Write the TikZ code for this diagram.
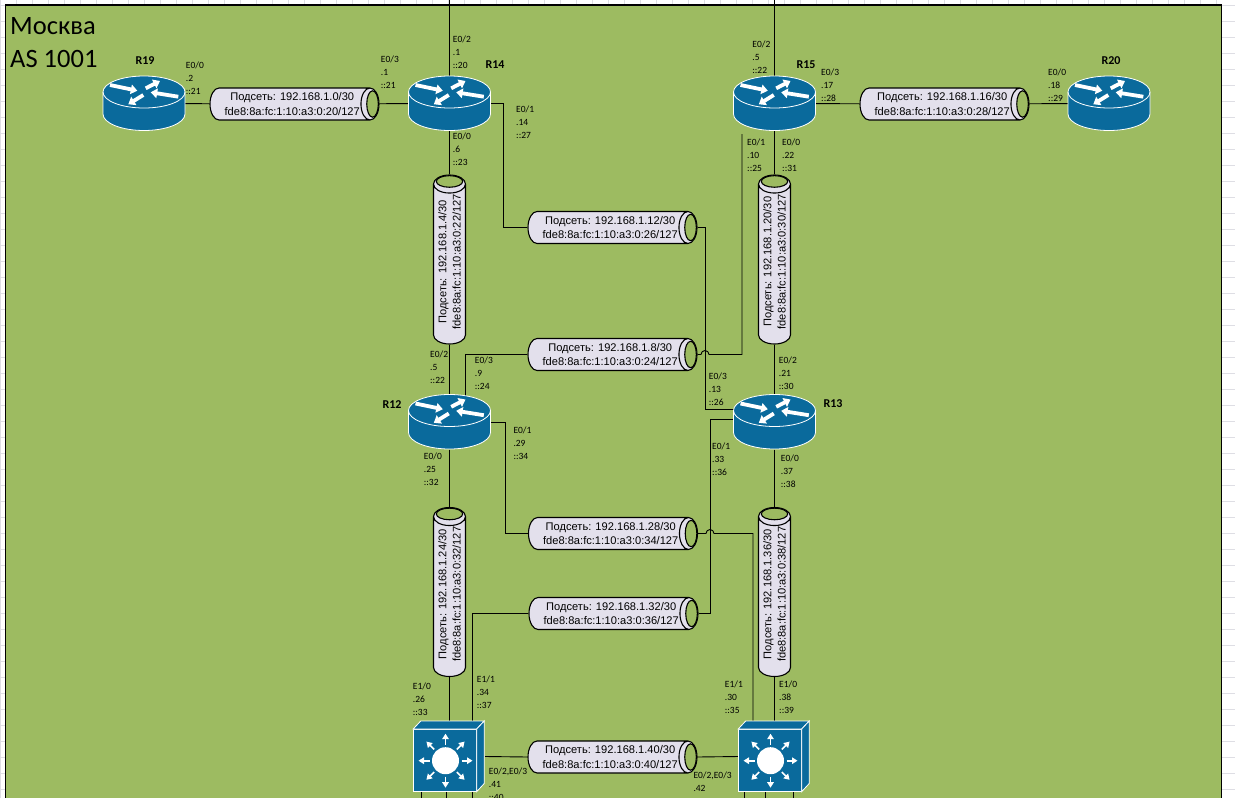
\documentclass[tikz,border=0pt]{standalone}
\usepackage{fontspec}
\setmainfont{Carlito}
\newfontfamily\tubefont{Liberation Sans}
\usetikzlibrary{shapes.geometric,arrows.meta}
\definecolor{asgreen}{HTML}{9DBB61}
\definecolor{ciscoblue}{HTML}{0A6A9C}
\definecolor{tubefill}{HTML}{E3E0EC}
\definecolor{gridline}{HTML}{DEDEE4}
\newcommand{\subnet}[2]{\hspace*{5pt}Подсеть: #1\\\hspace*{5pt}fde8:8a:fc:1:10:a3:0:#2}
\tikzset{
  ifl/.style={anchor=north west,inner sep=0pt,yshift=-2pt,align=left,font=\fontsize{9.5}{13}\selectfont},
  devname/.style={inner sep=0pt,font=\fontsize{12}{13}\selectfont\bfseries},
  tube/.style={draw,line width=1.1pt,cylinder,aspect=.8,minimum height=169pt,minimum width=32pt,inner sep=0pt,
    anchor=shape center,align=center,font=\tubefont\fontsize{11.1}{14.4}\selectfont,
    cylinder uses custom fill,cylinder body fill=tubefill,cylinder end fill=tubefill},
  tubeend/.style={draw,line width=1.1pt,fill=asgreen},
  link/.style={line width=.9pt},
  routerbox/.style={minimum width=82pt,minimum height=55pt,inner sep=0pt},
  switchbox/.style={minimum width=71pt,minimum height=71pt,inner sep=0pt},
  whitearrow/.style={white,line width=3.8pt,-{Triangle[width=9.5pt,length=6.5pt]}},
  router/.pic={
    \fill[ciscoblue] (-41,-11.5) -- (-41,10.5) arc[start angle=180,end angle=0,x radius=41,y radius=16.5]
      -- (41,-11.5) arc[start angle=360,end angle=180,x radius=41,y radius=16] -- cycle;
    \draw[white,line width=.8pt] (-41,-11.5) arc[start angle=180,end angle=-180,x radius=41,y radius=16];
    \draw[white,line width=.8pt] (-41,-11.5) -- (-41,10.5) arc[start angle=180,end angle=0,x radius=41,y radius=16.5] -- (41,-11.5);
    \draw[whitearrow] (-34,-18.5) -- (-6.7,-12.8);
    \draw[whitearrow] (-.7,-8.5) -- (-15.7,.8);
    \draw[whitearrow] (34.3,-6.8) -- (6.7,-11.2);
    \draw[whitearrow] (1.7,-15.2) -- (16,-22.5);
  },
  l3switch/.pic={
    \draw[white,line width=.8pt,fill=ciscoblue] (-36.3,-27.5) rectangle (27.2,35.2);
    \draw[white,line width=.8pt,fill=ciscoblue] (-36.3,-27.5) -- (-28.8,-35.5) -- (34.7,-35.5) -- (27.2,-27.5) -- cycle;
    \draw[white,line width=.8pt,fill=ciscoblue] (27.2,-27.5) -- (34.7,-35.5) -- (34.7,27) -- (27.2,35.2) -- cycle;
    \fill[white] (-4,4.2) circle (13.5);
    \foreach \a in {0,45,...,315}
      \draw[white,line width=1.6pt,-{Triangle[width=6.5pt,length=5.5pt]}] (-4,4.2) ++(\a:16) -- ++(\a:11);
  }
}
\begin{document}
\begin{tikzpicture}[x=1pt,y=-1pt]
  \useasboundingbox (0,0) rectangle (1235,798);
  % sheet grid
  \foreach \i in {0,...,76} \draw[gridline,line width=.6pt] (.7+16*\i,0) -- (.7+16*\i,798);
  \foreach \i in {0,...,49} \draw[gridline,line width=.6pt] (0,5+16*\i) -- (1235,5+16*\i);
  \fill[asgreen] (5.5,5) rectangle (1221.5,798);
  \draw[line width=1.2pt] (5.5,798) -- (5.5,5) -- (1221.5,5) -- (1221.5,798);

  \node (as) [anchor=north west,inner sep=0pt,align=left,font=\fontsize{26.5}{33}\selectfont] at (10,17) {Москва\\AS 1001};

  % routers and switches
  \node (r19) [routerbox] at (144,103.5) {};
  \node (r14) [routerbox] at (449.5,103.5) {};
  \node (r15) [routerbox] at (774.5,103.5) {};
  \node (r20) [routerbox] at (1109,103.5) {};
  \node (r12) [routerbox] at (449.5,422) {};
  \node (r13) [routerbox] at (774.5,422) {};
  \node (sw1) [switchbox] at (449.5,756.5) {};
  \node (sw2) [switchbox] at (774.5,756.5) {};

  % subnets
  \node (t0) [tube] at (294.5,104) {\subnet{192.168.1.0/30}{20/127}};
  \node (t16) [tube] at (944.5,104) {\subnet{192.168.1.16/30}{28/127}};
  \node (t4) [tube,rotate=90] at (449.5,259.5) {\subnet{192.168.1.4/30}{22/127}};
  \node (t20) [tube,rotate=90] at (774.5,259.5) {\subnet{192.168.1.20/30}{30/127}};
  \node (t12) [tube] at (612.5,227.5) {\subnet{192.168.1.12/30}{26/127}};
  \node (t8) [tube] at (612.5,354.5) {\subnet{192.168.1.8/30}{24/127}};
  \node (t28) [tube] at (613,533.5) {\subnet{192.168.1.28/30}{34/127}};
  \node (t32) [tube] at (613.5,613.5) {\subnet{192.168.1.32/30}{36/127}};
  \node (t24) [tube,rotate=90] at (449.5,592) {\subnet{192.168.1.24/30}{32/127}};
  \node (t36) [tube,rotate=90] at (774.5,592) {\subnet{192.168.1.36/30}{38/127}};
  \node (t40) [tube] at (612.5,757) {\subnet{192.168.1.40/30}{40/127}};
  \foreach \t in {t0,t16,t12,t8,t28,t32,t40}
    \draw[tubeend] ([xshift=-7pt]\t.top) ellipse [x radius=5.8,y radius=13.2];
  \foreach \t in {t4,t20,t24,t36}
    \draw[tubeend] ([yshift=-7pt]\t.top) ellipse [x radius=13.2,y radius=5.8];

  % free ends and side ports
  \coordinate (up14) at (449.5,0);
  \coordinate (up15) at (774.5,0);
  \coordinate (r12a) at (465,396);
  \coordinate (r13a) at (734,409);
  \coordinate (r13b) at (734,419);
  \coordinate (r15b) at (742,134);
  \coordinate (sw1a) at (472,722);
  \coordinate (sw2a) at (753,722);
  \foreach \x in {421.7,446.7,472.3,744.3,765.7,793.3}
    \draw[link] (\x,792) -- (\x,798);

  \draw[link] (up14) -- (r14.north);
  \draw[link] (up15) -- (r15.north);
  \draw[link] (r19) -- (t0);
  \draw[link] (t0) -- (r14);
  \draw[link] (r15) -- (t16);
  \draw[link] (t16) -- (r20);
  \draw[link] (r14.south) -- (t4.top);
  \draw[link] (t4.bottom) -- (r12.north);
  \draw[link] (r15.south) -- (t20.top);
  \draw[link] (t20.bottom) -- (r13.north);
  \draw[link] (r12.south) -- (t24.top);
  \draw[link] (t24.bottom) -- (sw1.north);
  \draw[link] (r13.south) -- (t36.top);
  \draw[link] (t36.bottom) -- (sw2.north);
  \draw[link] (r14.east) -- (503,103.5) |- (t12.bottom);
  \draw[link] (t12.top) -- (705,227.5) |- (r13a);
  \draw[link] (t8.bottom) -| (r12a);
  \draw[link] (t8.top) -- (701,354.5) arc[start angle=180,end angle=360,radius=4] -| (r15b);
  \draw[link] (r12.east) -- (505,422) |- (t28.bottom);
  \draw[link] (t28.top) -- (706,533.5) arc[start angle=180,end angle=360,radius=4] -| (sw2a);
  \draw[link] (r13b) -| (710,613.5) -- (t32.top);
  \draw[link] (t32.bottom) -| (sw1a);
  \draw[link] (t40.bottom) -- (sw1.east);
  \draw[link] (t40.top) -- (sw2.west);

  % icons on top
  \foreach \n in {r19,r14,r15,r20,r12,r13} \pic at (\n) {router};
  \foreach \n in {sw1,sw2} \pic at (\n) {l3switch};

  % names
  \node (n19) [devname] at (145,61) {R19};
  \node (n14) [devname] at (495,65) {R14};
  \node (n15) [devname] at (806,65) {R15};
  \node (n20) [devname] at (1111,61) {R20};
  \node (n12) [devname] at (392,405) {R12};
  \node (n13) [devname] at (833,404) {R13};

  % interface labels
  \node (l1) [ifl] at (185.7,60) {E0/0\\.2\\::21};
  \node (l2) [ifl] at (380.7,53.5) {E0/3\\.1\\::21};
  \node (l3) [ifl] at (452.7,33.5) {E0/2\\.1\\::20};
  \node (l4) [ifl] at (452.7,131) {E0/0\\.6\\::23};
  \node (l5) [ifl] at (516,104) {E0/1\\.14\\::27};
  \node (l6) [ifl] at (752.2,38.5) {E0/2\\.5\\::22};
  \node (l7) [ifl] at (821,66.5) {E0/3\\.17\\::28};
  \node (l8) [ifl] at (1048,67) {E0/0\\.18\\::29};
  \node (l9) [ifl] at (747,137) {E0/1\\.10\\::25};
  \node (l10) [ifl] at (782,137) {E0/0\\.22\\::31};
  \node (l11) [ifl] at (430,349) {E0/2\\.5\\::22};
  \node (l12) [ifl] at (474.7,355) {E0/3\\.9\\::24};
  \node (l13) [ifl] at (708.7,370.5) {E0/3\\.13\\::26};
  \node (l14) [ifl] at (778.7,355) {E0/2\\.21\\::30};
  \node (l15) [ifl] at (513.3,425) {E0/1\\.29\\::34};
  \node (l16) [ifl] at (712,440.5) {E0/1\\.33\\::36};
  \node (l17) [ifl] at (423.7,451) {E0/0\\.25\\::32};
  \node (l18) [ifl] at (780.7,453) {E0/0\\.37\\::38};
  \node (l19) [ifl] at (412.7,681) {E1/0\\.26\\::33};
  \node (l20) [ifl] at (476.7,674) {E1/1\\.34\\::37};
  \node (l21) [ifl] at (724.7,679) {E1/1\\.30\\::35};
  \node (l22) [ifl] at (779,679) {E1/0\\.38\\::39};
  \node (l23) [ifl] at (488.7,766) {E0/2,E0/3\\.41\\::40};
  \node (l24) [ifl] at (693.3,769.5) {E0/2,E0/3\\.42};
\end{tikzpicture}
\end{document}
